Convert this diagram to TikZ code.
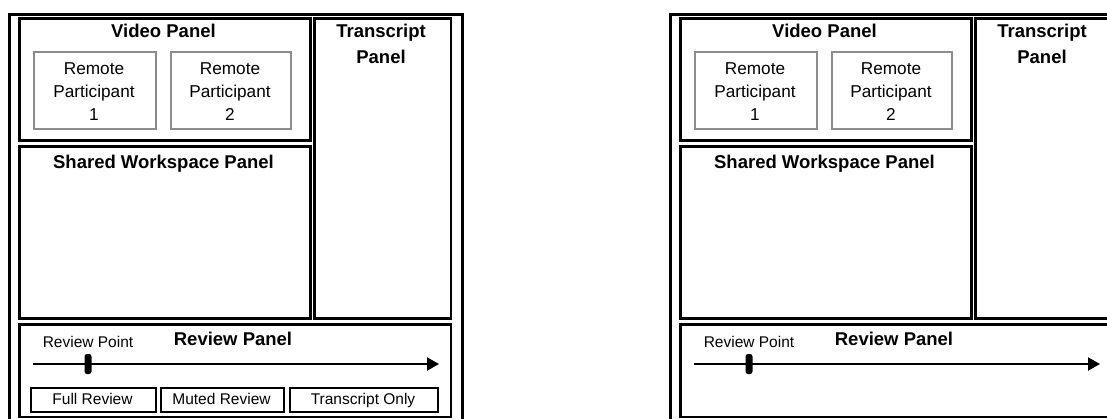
\documentclass[tikz,border=0pt]{standalone}
\usepackage{fontspec}
\setmainfont{Liberation Sans}
\usetikzlibrary{arrows.meta}

\tikzset{
  px/.style={x=1pt,y=-1pt},
  frame/.style={draw, line width=3pt, rectangle, inner sep=0pt, anchor=north west},
  panel/.style={draw, line width=2.6pt, rectangle, inner sep=0pt, anchor=north west},
  feed/.style={draw=black!45, line width=2.2pt, rectangle, inner sep=0pt, anchor=north west},
  modebtn/.style={draw, line width=2pt, rectangle, inner sep=0pt, anchor=north west},
  % multi-line labels are placed by the baseline of their last line
  title/.style={font=\fontsize{18.5}{26}\selectfont\bfseries, align=center, inner sep=0pt, anchor=base},
  feedtext/.style={font=\fontsize{17.2}{23}\selectfont, align=center, inner sep=0pt, anchor=base},
  small/.style={font=\fontsize{15.5}{18}\selectfont, inner sep=0pt, anchor=base},
  thumb/.style={fill, rectangle, rounded corners=2.5pt, minimum width=7pt, minimum height=20pt, inner sep=0pt},
  timeline/.style={line width=2pt, -{Triangle[length=12pt,width=13pt]}}
}

\begin{document}
\begin{tikzpicture}[px]
\useasboundingbox (0,0) rectangle (1107,418);
\clip (0,0) rectangle (1107,418);

% Layout A: with review mode buttons
\begin{scope}[name prefix=A-]
  \node[frame, minimum width=453pt, minimum height=420pt] (outer) at (7.5,12.5) {};
  \node[panel, minimum width=291pt, minimum height=122pt] (video) at (18,17) {};
  \node[panel, minimum width=136.5pt, minimum height=300pt] (trans) at (313,17) {};
  \node[panel, minimum width=291pt, minimum height=172pt] (shared) at (18,145) {};
  \node[panel, minimum width=431.5pt, minimum height=92.5pt] (review) at (18,323) {};

  \node[feed, minimum width=122pt, minimum height=77pt] (p1) at (33,51) {};
  \node[feed, minimum width=120pt, minimum height=77pt] (p2) at (170,51) {};

  \node[title] (videot) at (163.5,37) {Video Panel};
  \node[title] (transt) at (381,63) {Transcript\\Panel};
  \node[title] (sharedt) at (163.5,168) {Shared Workspace Panel};
  \node[title] (reviewt) at (233,345) {Review Panel};

  \node[feedtext] (p1t) at (94,120) {Remote\\Participant\\1};
  \node[feedtext] (p2t) at (230,120) {Remote\\Participant\\2};

  \coordinate (tl0) at (33,364);
  \coordinate (tl1) at (439,364);
  \draw[timeline] (tl0) -- (tl1);
  \node[thumb] (pt) at (88,364) {};
  \node[small] (ptt) at (88,347) {Review Point};

  \node[modebtn, minimum width=125pt, minimum height=24pt] (b1) at (30,387) {};
  \node[modebtn, minimum width=123pt, minimum height=24pt] (b2) at (160,387) {};
  \node[modebtn, minimum width=148pt, minimum height=24pt] (b3) at (289,387) {};
  \node[small] (b1t) at (92.5,404) {Full Review};
  \node[small] (b2t) at (221.5,404) {Muted Review};
  \node[small] (b3t) at (363,404) {Transcript Only};
\end{scope}

% Layout B: same panels, no mode buttons
\begin{scope}[name prefix=B-, xshift=661pt]
  \node[frame, minimum width=453pt, minimum height=420pt] (outer) at (7.5,12.5) {};
  \node[panel, minimum width=291pt, minimum height=122pt] (video) at (18,17) {};
  \node[panel, minimum width=136.5pt, minimum height=300pt] (trans) at (313,17) {};
  \node[panel, minimum width=291pt, minimum height=172pt] (shared) at (18,145) {};
  \node[panel, minimum width=431.5pt, minimum height=92.5pt] (review) at (18,323) {};

  \node[feed, minimum width=122pt, minimum height=77pt] (p1) at (33,51) {};
  \node[feed, minimum width=120pt, minimum height=77pt] (p2) at (170,51) {};

  \node[title] (videot) at (163.5,37) {Video Panel};
  \node[title] (transt) at (381,63) {Transcript\\Panel};
  \node[title] (sharedt) at (163.5,168) {Shared Workspace Panel};
  \node[title] (reviewt) at (233,345) {Review Panel};

  \node[feedtext] (p1t) at (94,120) {Remote\\Participant\\1};
  \node[feedtext] (p2t) at (230,120) {Remote\\Participant\\2};

  \coordinate (tl0) at (33,364);
  \coordinate (tl1) at (439,364);
  \draw[timeline] (tl0) -- (tl1);
  \node[thumb] (pt) at (88,364) {};
  \node[small] (ptt) at (88,347) {Review Point};
\end{scope}
\end{tikzpicture}
\end{document}
